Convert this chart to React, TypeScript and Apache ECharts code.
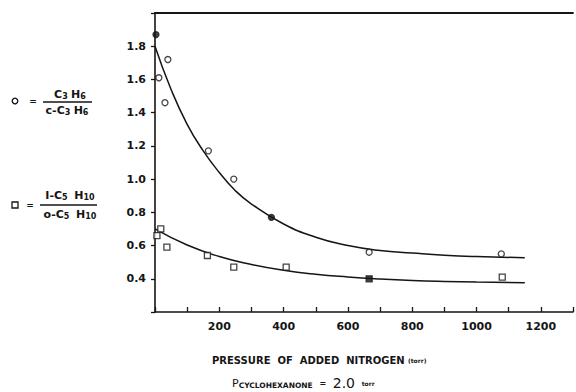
import React, { useEffect, useRef } from "react";
import * as echarts from "echarts";

// Measured points: ratio C3H6 / c-C3H6 (circles) vs added N2 pressure (torr)
const propX = [3, 12, 40, 31, 166, 245, 362, 666, 1077];
const propY = [1.87, 1.61, 1.72, 1.46, 1.17, 1.0, 0.77, 0.56, 0.55];
const propFilled = [true, false, false, false, false, false, true, false, false];

// Measured points: ratio 1-C5H10 / c-C5H10 (squares)
const pentX = [6, 18, 37, 163, 245, 408, 666, 1080];
const pentY = [0.66, 0.70, 0.59, 0.54, 0.47, 0.47, 0.40, 0.41];
const pentFilled = [false, false, false, false, false, false, true, false];

// Hand-drawn fitted curves
const upperCurveX = [0, 50, 100, 150, 200, 250, 300, 400, 500, 600, 700, 800, 900, 1000, 1150];
const upperCurveY = [1.80, 1.54, 1.33, 1.17, 1.04, 0.93, 0.85, 0.73, 0.65, 0.60, 0.57, 0.555, 0.542, 0.534, 0.527];
const lowerCurveX = [0, 100, 200, 300, 400, 500, 600, 700, 800, 900, 1000, 1150];
const lowerCurveY = [0.70, 0.603, 0.534, 0.486, 0.451, 0.427, 0.411, 0.399, 0.390, 0.384, 0.380, 0.376];

const xTickLabels = [200, 400, 600, 800, 1000, 1200];
const yTickLabels = ["0.4", "0.6", "0.8", "1.0", "1.2", "1.4", "1.6", "1.8"];

const FONT = "'DejaVu Sans', 'Liberation Sans', sans-serif";
const INK = "#151515";

export default function App() {
  const ref = useRef<HTMLDivElement>(null);
  useEffect(() => {
    if (!ref.current) return;
    const chart = echarts.init(ref.current, undefined, { renderer: "svg" });
    const pts = (xs: number[], ys: number[], filled: boolean[]) =>
      xs.map((x, i) => ({
        value: [x, ys[i]],
        itemStyle: { color: filled[i] ? INK : "#fff", borderColor: INK, borderWidth: 1.3 },
      }));
    const formulaRich = {
      m: { font: `bold 11px ${FONT}`, fill: INK },
      s: { font: `bold 8px ${FONT}`, fill: INK, padding: [5, 0, 0, 0] },
    };
    chart.setOption({
      animation: false,
      backgroundColor: "#fff",
      textStyle: { fontFamily: FONT },
      grid: { left: 155, width: 424, top: 13, height: 299 },
      xAxis: [
        {
          type: "value",
          min: 0,
          max: 1300,
          interval: 100,
          axisLine: { lineStyle: { color: INK, width: 1.6 } },
          axisTick: { inside: true, length: 5, lineStyle: { color: INK, width: 1.3 } },
          splitLine: { show: false },
          axisLabel: {
            margin: 9,
            fontSize: 11,
            fontWeight: "bold",
            color: INK,
            formatter: (v: number) => (xTickLabels.includes(v) ? String(v) : ""),
          },
        },
        {
          type: "value",
          position: "top",
          min: 0,
          max: 1300,
          axisLine: { show: true, lineStyle: { color: INK, width: 1.8 } },
          axisTick: { show: false },
          axisLabel: { show: false },
          splitLine: { show: false },
        },
      ],
      yAxis: {
        type: "value",
        min: 0.2,
        max: 2.0,
        interval: 0.2,
        axisLine: { show: true, lineStyle: { color: INK, width: 1.6 } },
        axisTick: { show: true, length: 4, lineStyle: { color: INK, width: 1.3 } },
        splitLine: { show: false },
        axisLabel: {
          margin: 9,
          fontSize: 11,
          fontWeight: "bold",
          color: INK,
          formatter: (v: number) => {
            const s = v.toFixed(1);
            return yTickLabels.includes(s) ? s : "";
          },
        },
      },
      series: [
        {
          type: "line",
          smooth: true,
          showSymbol: false,
          data: upperCurveX.map((x, i) => [x, upperCurveY[i]]),
          lineStyle: { color: INK, width: 1.5 },
          z: 2,
        },
        {
          type: "line",
          smooth: true,
          showSymbol: false,
          data: lowerCurveX.map((x, i) => [x, lowerCurveY[i]]),
          lineStyle: { color: INK, width: 1.5 },
          z: 2,
        },
        {
          type: "scatter",
          symbol: "circle",
          symbolSize: 6,
          data: pts(propX, propY, propFilled),
          z: 3,
        },
        {
          type: "scatter",
          symbol: "rect",
          symbolSize: 6,
          data: pts(pentX, pentY, pentFilled),
          z: 3,
        },
      ],
      graphic: [
        // circle legend
        { type: "circle", shape: { cx: 15, cy: 101, r: 2.8 }, style: { fill: "#fff", stroke: INK, lineWidth: 1.3 } },
        { type: "text", style: { x: 33, y: 101, text: "=", fill: INK, font: `bold 9px ${FONT}`, align: "center", verticalAlign: "middle" } },
        { type: "text", style: { x: 70, y: 94, text: "{m|C}{s|3} {m|H}{s|6}", align: "center", verticalAlign: "middle", rich: formulaRich } },
        { type: "line", shape: { x1: 43, y1: 102, x2: 92, y2: 102 }, style: { stroke: INK, lineWidth: 1.3 } },
        { type: "text", style: { x: 67, y: 110, text: "{m|c-C}{s|3} {m|H}{s|6}", align: "center", verticalAlign: "middle", rich: formulaRich } },
        // square legend
        { type: "rect", shape: { x: 12, y: 202, width: 6, height: 6 }, style: { fill: "#fff", stroke: INK, lineWidth: 1.3 } },
        { type: "text", style: { x: 30, y: 205, text: "=", fill: INK, font: `bold 9px ${FONT}`, align: "center", verticalAlign: "middle" } },
        { type: "text", style: { x: 70, y: 195, text: "{m|I-C}{s|5}  {m|H}{s|10}", align: "center", verticalAlign: "middle", rich: formulaRich } },
        { type: "line", shape: { x1: 40, y1: 205, x2: 97, y2: 205 }, style: { stroke: INK, lineWidth: 1.3 } },
        { type: "text", style: { x: 70, y: 214, text: "{m|o-C}{s|5}  {m|H}{s|10}", align: "center", verticalAlign: "middle", rich: formulaRich } },
        // axis title
        {
          type: "text",
          style: {
            x: 212,
            y: 360,
            text: "{a|PRESSURE  OF  ADDED  NITROGEN} {b|(torr)}",
            fill: INK,
            verticalAlign: "middle",
            rich: {
              a: { font: `bold 10px ${FONT}`, fill: INK },
              b: { font: `bold 6px ${FONT}`, fill: INK },
            },
          },
        },
        {
          type: "text",
          style: {
            x: 232,
            y: 383,
            text: "{p|P}{s|CYCLOHEXANONE}  {e|=}  {v|2.0}  {t|torr}",
            fill: INK,
            verticalAlign: "middle",
            rich: {
              p: { font: `11px ${FONT}`, fill: INK },
              s: { font: `bold 7.5px ${FONT}`, fill: INK, padding: [4, 0, 0, 0] },
              e: { font: `bold 8px ${FONT}`, fill: INK },
              v: { font: `14px ${FONT}`, fill: INK },
              t: { font: `bold 6px ${FONT}`, fill: INK },
            },
          },
        },
      ],
    });
    return () => chart.dispose();
  }, []);
  return <div ref={ref} style={{ position: "fixed", left: 0, top: 0, width: 576, height: 392 }} />;
}
